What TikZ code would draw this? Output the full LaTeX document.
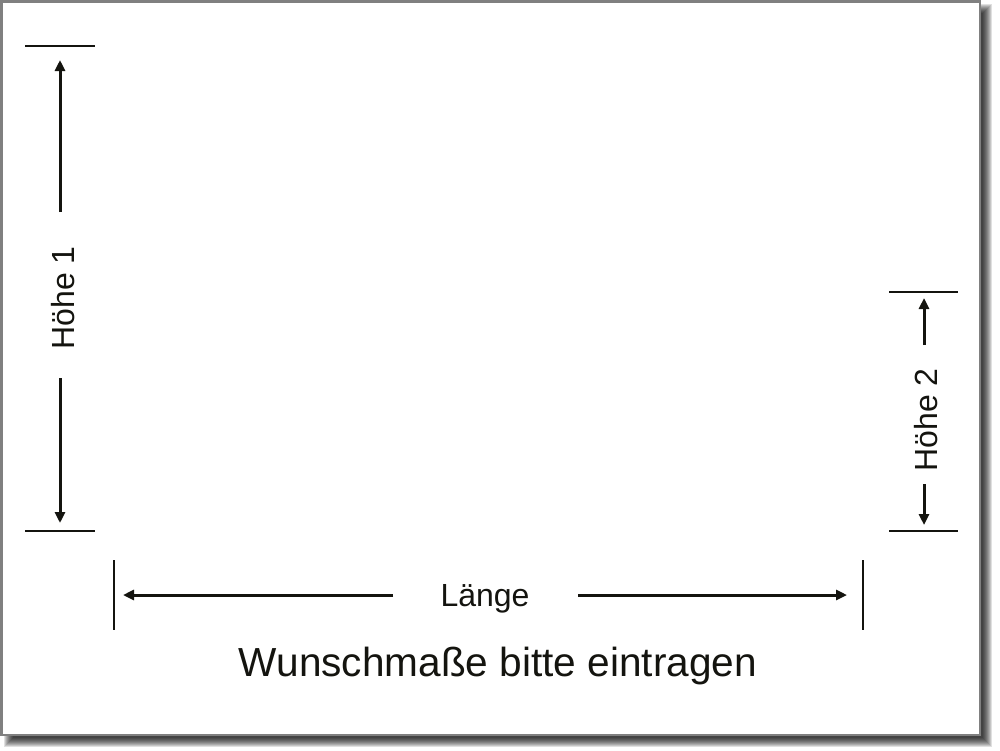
\documentclass[tikz,border=0pt]{standalone}
\usepackage{fontspec}
\setmainfont{Liberation Sans}
\usetikzlibrary{arrows.meta}
\definecolor{pageborder}{HTML}{808080}
\definecolor{ink}{HTML}{14140F}
\begin{document}
\begin{tikzpicture}[x=1pt,y=-1pt,
  extline/.style={draw=ink,line width=1.8pt},
  dimarrow/.style={draw=ink,line width=3pt,-{Triangle[length=11pt,width=10pt]}},
  dimlabel/.style={text=ink,inner sep=0pt,font=\fontsize{32}{36}\selectfont},
  titlelabel/.style={text=ink,inner sep=0pt,font=\fontsize{40.6}{46}\selectfont}]
\useasboundingbox (0,0) rectangle (1000,750);
\fill[white] (0,0) rectangle (1000,750);
% shadow
\foreach \k in {0,...,9}{
  \fill[black,opacity=0.12] (4+\k,4+\k) rectangle (992-\k,747-\k);
}
% page
\fill[white,draw=pageborder,line width=2.5pt] (1.25,1.25) rectangle (979.75,734.75);

% Hoehe 1
\coordinate (h1ta) at (25,46);  \coordinate (h1tb) at (95,46);
\coordinate (h1ba) at (25,531); \coordinate (h1bb) at (95,531);
\draw[extline] (h1ta) -- (h1tb);
\draw[extline] (h1ba) -- (h1bb);
\node[dimlabel,rotate=90] (h1) at (63,298) {Höhe 1};
\coordinate (h1us) at (60,212); \coordinate (h1ue) at (60,60);
\coordinate (h1ls) at (60,378); \coordinate (h1le) at (60,523);
\draw[dimarrow] (h1us) -- (h1ue);
\draw[dimarrow] (h1ls) -- (h1le);

% Hoehe 2
\coordinate (h2ta) at (889,292); \coordinate (h2tb) at (958,292);
\coordinate (h2ba) at (889,531); \coordinate (h2bb) at (958,531);
\draw[extline] (h2ta) -- (h2tb);
\draw[extline] (h2ba) -- (h2bb);
\node[dimlabel,rotate=90] (h2) at (926,420) {Höhe 2};
\coordinate (h2us) at (924,345); \coordinate (h2ue) at (924,298);
\coordinate (h2ls) at (924,484); \coordinate (h2le) at (924,525);
\draw[dimarrow] (h2us) -- (h2ue);
\draw[dimarrow] (h2ls) -- (h2le);

% Laenge
\coordinate (lla) at (114,560); \coordinate (llb) at (114,630);
\coordinate (lra) at (863,560); \coordinate (lrb) at (863,630);
\draw[extline] (lla) -- (llb);
\draw[extline] (lra) -- (lrb);
\node[dimlabel] (laenge) at (485,599) {Länge};
\coordinate (lls) at (393,595); \coordinate (lle) at (123,595);
\coordinate (lrs) at (578,595); \coordinate (lre) at (847,595);
\draw[dimarrow] (lls) -- (lle);
\draw[dimarrow] (lrs) -- (lre);

\node[titlelabel] (title) at (498,666) {Wunschmaße bitte eintragen};
\end{tikzpicture}
\end{document}
